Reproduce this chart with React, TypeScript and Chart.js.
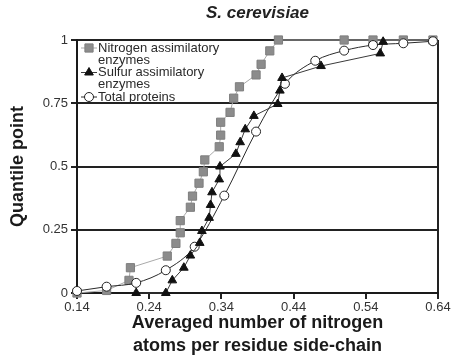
import React, { useEffect, useRef } from 'react';
import { Chart, registerables } from 'chart.js';

Chart.register(...registerables);

const FONT = '"Liberation Sans", Arial, Helvetica, sans-serif';

const chartTitle = 'S. cerevisiae';
const xAxisTitle = ['Averaged number of nitrogen', 'atoms per residue side-chain'];
const yAxisTitle = 'Quantile point';

const xTicks = [0.14, 0.24, 0.34, 0.44, 0.54, 0.64];
const xTickLabels = ['0.14', '0.24', '0.34', '0.44', '0.54', '0.64'];
const yTicks = [0, 0.25, 0.5, 0.75, 1];
const yTickLabels = ['0', '0.25', '0.5', '0.75', '1'];

const nitrogenLabel = ['Nitrogen assimilatory', 'enzymes'];
const nitrogenX = [0.14, 0.181, 0.212, 0.214, 0.265, 0.277, 0.283, 0.283, 0.297, 0.3, 0.309, 0.315, 0.317, 0.337, 0.339, 0.339, 0.352, 0.357, 0.365, 0.388, 0.395, 0.407, 0.419, 0.51, 0.55, 0.592, 0.633];
const nitrogenY = [0, 0.01, 0.05, 0.1, 0.146, 0.196, 0.238, 0.286, 0.339, 0.383, 0.434, 0.479, 0.526, 0.578, 0.624, 0.675, 0.714, 0.77, 0.815, 0.862, 0.904, 0.957, 1, 1, 1, 1, 1];

const sulfurLabel = ['Sulfur assimilatory', 'enzymes'];
const sulfurX = [0.222, 0.263, 0.272, 0.288, 0.297, 0.31, 0.313, 0.323, 0.325, 0.327, 0.337, 0.338, 0.36, 0.366, 0.373, 0.385, 0.418, 0.421, 0.424, 0.478, 0.56, 0.564];
const sulfurY = [0, 0, 0.05, 0.1, 0.148, 0.198, 0.245, 0.297, 0.348, 0.398, 0.449, 0.5, 0.55, 0.596, 0.647, 0.7, 0.747, 0.8, 0.85, 0.897, 0.947, 0.993];

const totalLabel = ['Total proteins'];
const totalX = [0.14, 0.181, 0.222, 0.263, 0.303, 0.344, 0.388, 0.428, 0.47, 0.51, 0.55, 0.592, 0.633];
const totalY = [0.008, 0.025, 0.04, 0.09, 0.183, 0.385, 0.638, 0.827, 0.918, 0.958, 0.98, 0.987, 0.995];

const toPoints = (xs: number[], ys: number[]) => xs.map((x, i) => ({ x, y: ys[i] }));

function drawMarker(ctx: CanvasRenderingContext2D, style: string, x: number, y: number, r: number, fill: string, stroke: string) {
  ctx.save();
  ctx.fillStyle = fill;
  ctx.strokeStyle = stroke;
  ctx.lineWidth = 1;
  ctx.beginPath();
  if (style === 'rect') {
    const s = r * Math.SQRT1_2;
    ctx.rect(x - s, y - s, 2 * s, 2 * s);
  } else if (style === 'triangle') {
    let a = 0;
    ctx.moveTo(x + Math.sin(a) * r, y - Math.cos(a) * r);
    a += (2 * Math.PI) / 3;
    ctx.lineTo(x + Math.sin(a) * r, y - Math.cos(a) * r);
    a += (2 * Math.PI) / 3;
    ctx.lineTo(x + Math.sin(a) * r, y - Math.cos(a) * r);
    ctx.closePath();
  } else {
    ctx.arc(x, y, r, 0, Math.PI * 2);
  }
  ctx.fill();
  ctx.stroke();
  ctx.restore();
}

const legendPlugin = {
  id: 'insideLegend',
  afterDatasetsDraw(chart: any) {
    const ctx: CanvasRenderingContext2D = chart.ctx;
    const area = chart.chartArea;
    let y = area.top + 8;
    const lineH = 12;
    ctx.save();
    ctx.font = `13px ${FONT}`;
    ctx.textBaseline = 'middle';
    ctx.textAlign = 'left';
    chart.data.datasets.forEach((ds: any) => {
      const lines: string[] = Array.isArray(ds.label) ? ds.label : [ds.label];
      ctx.strokeStyle = ds.borderColor;
      ctx.lineWidth = 1;
      ctx.beginPath();
      ctx.moveTo(area.left + 4, y);
      ctx.lineTo(area.left + 20, y);
      ctx.stroke();
      drawMarker(ctx, ds.pointStyle, area.left + 12, y, ds.pointRadius, ds.pointBackgroundColor, ds.pointBorderColor);
      ctx.fillStyle = '#2a2a2a';
      lines.forEach((t) => {
        ctx.fillText(t, area.left + 21, y);
        y += lineH;
      });
      y += 0.5;
    });
    ctx.restore();
  },
};

export default function App() {
  const ref = useRef<HTMLCanvasElement | null>(null);

  useEffect(() => {
    if (!ref.current) return;
    const chart = new Chart(ref.current, {
      type: 'scatter',
      data: {
        datasets: [
          {
            label: nitrogenLabel as any,
            data: toPoints(nitrogenX, nitrogenY),
            showLine: true,
            borderColor: '#a9a9a9',
            borderWidth: 1,
            pointStyle: 'rect',
            pointRadius: 5.8,
            pointBackgroundColor: '#8c8c8c',
            pointBorderColor: '#7e7e7e',
            pointBorderWidth: 1,
            clip: false as any,
            order: 2,
          } as any,
          {
            label: sulfurLabel as any,
            data: toPoints(sulfurX, sulfurY),
            showLine: true,
            borderColor: '#3a3a3a',
            borderWidth: 1,
            pointStyle: 'triangle',
            pointRadius: 5,
            pointBackgroundColor: '#111111',
            pointBorderColor: '#111111',
            pointBorderWidth: 1,
            clip: false as any,
            order: 0,
          } as any,
          {
            label: totalLabel as any,
            data: toPoints(totalX, totalY),
            showLine: true,
            cubicInterpolationMode: 'monotone',
            borderColor: '#2a2a2a',
            borderWidth: 1,
            pointStyle: 'circle',
            pointRadius: 4.5,
            pointBackgroundColor: '#ffffff',
            pointBorderColor: '#222222',
            pointBorderWidth: 1,
            clip: false as any,
            order: 1,
          } as any,
        ],
      },
      options: {
        responsive: false,
        animation: false,
        layout: { padding: { top: 0, right: 14, bottom: 0, left: 0 } },
        plugins: {
          legend: { display: false },
          tooltip: { enabled: false },
          title: {
            display: true,
            text: chartTitle,
            fullSize: false,
            color: '#222',
            font: { family: FONT, size: 17, weight: 'bold', style: 'italic', lineHeight: 1.2 },
            padding: { top: 3, bottom: 16.6 },
          },
        },
        scales: {
          x: {
            type: 'linear',
            min: 0.14,
            max: 0.64,
            afterBuildTicks: (scale: any) => {
              scale.ticks = xTicks.map((v) => ({ value: v }));
            },
            afterFit: (scale: any) => {
              scale.height = 71;
            },
            ticks: {
              color: '#333',
              font: { family: FONT, size: 13 },
              padding: 1,
              maxRotation: 0,
              callback: (v: any, i: number) => xTickLabels[i],
            },
            grid: {
              display: true,
              drawOnChartArea: true,
              color: (c: any) => (c.index === xTicks.length - 1 ? '#222' : 'rgba(0,0,0,0)'),
              lineWidth: 2,
              tickColor: '#222',
              tickLength: 6,
            },
            border: { display: true, color: '#1a1a1a', width: 2 },
            title: {
              display: true,
              text: xAxisTitle,
              color: '#1a1a1a',
              font: { family: FONT, size: 18, weight: 'bold', lineHeight: 1.3 },
              padding: { top: 0, bottom: 6 },
            },
          },
          y: {
            type: 'linear',
            min: 0,
            max: 1,
            afterBuildTicks: (scale: any) => {
              scale.ticks = yTicks.map((v) => ({ value: v }));
            },
            afterFit: (scale: any) => {
              scale.width = 77;
            },
            ticks: {
              color: '#333',
              font: { family: FONT, size: 13 },
              padding: 3,
              callback: (v: any, i: number) => yTickLabels[i],
            },
            grid: {
              display: true,
              color: '#222',
              lineWidth: 2,
              tickColor: '#222',
              tickLength: 6,
            },
            border: { display: true, color: '#1a1a1a', width: 2 },
            title: {
              display: true,
              text: yAxisTitle,
              color: '#1a1a1a',
              font: { family: FONT, size: 18, weight: 'bold', lineHeight: 1.2 },
              padding: { top: 7, bottom: 0 },
            },
          },
        },
      } as any,
      plugins: [legendPlugin],
    });
    return () => chart.destroy();
  }, []);

  return (
    <div style={{ position: 'absolute', left: 0, top: 0, width: 452, height: 364, background: '#fff' }}>
      <canvas ref={ref} width={452} height={364} style={{ display: 'block' }} />
    </div>
  );
}
